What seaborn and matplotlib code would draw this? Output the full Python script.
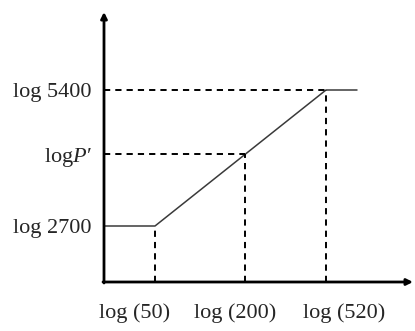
import matplotlib
matplotlib.use("Agg")
import matplotlib.pyplot as plt
import seaborn as sns
import pandas as pd

# schematic positions (the chart is not to scale)
x_labels = ["log (50)", "log (200)", "log (520)"]
x_pos = [51, 141, 222]
x_label_pos = [31, 131, 240]   # labels sit a little off the guide lines
y_labels = ["log 2700", "log$P′$", "log 5400"]
y_pos = [56, 128, 192]

# piecewise curve: flat, rising, flat
curve_x = [0, 51, 222, 253]
curve_y = [56, 56, 192, 192]

sns.set_theme(style="white")
plt.rcParams["font.family"] = ["Liberation Serif", "DejaVu Serif"]
plt.rcParams["mathtext.fontset"] = "custom"
plt.rcParams["mathtext.rm"] = "Liberation Serif"
plt.rcParams["mathtext.it"] = "Liberation Serif:italic"

fig = plt.figure(figsize=(4.15, 3.31), dpi=100)
ax = fig.add_axes([104 / 415, 49 / 331, 309 / 415, 270 / 331])
ax.set_xlim(0, 309)
ax.set_ylim(0, 270)

curve = pd.DataFrame({"x": curve_x, "y": curve_y})
sns.lineplot(data=curve, x="x", y="y", sort=False, ax=ax,
             color="#3a3a3a", linewidth=1.1)

dash = (0, (3.2, 2.6))
# vertical guides from the axis to the curve
for xv, yv in zip(x_pos, y_pos):
    ax.plot([xv, xv], [0, yv], color="black", linewidth=1.4, linestyle=dash)
# horizontal guides for P' and 5400
for xv, yv in zip(x_pos[1:], y_pos[1:]):
    ax.plot([0, xv], [yv, yv], color="black", linewidth=1.4, linestyle=dash)

# axes drawn as arrows
for s in ax.spines.values():
    s.set_visible(False)
arrow = dict(arrowstyle="-|>", color="black", lw=2, mutation_scale=9,
             shrinkA=0, shrinkB=0)
ax.annotate("", xy=(309, 0), xytext=(-1, 0), arrowprops=arrow,
            annotation_clip=False)
ax.annotate("", xy=(0, 270), xytext=(0, -1), arrowprops=arrow,
            annotation_clip=False)

ax.set_xticks(x_label_pos)
ax.set_xticklabels(x_labels, fontsize=16)
ax.set_yticks(y_pos)
ax.set_yticklabels(y_labels, fontsize=16)
ax.tick_params(axis="x", length=0, pad=15)
ax.tick_params(axis="y", length=0, pad=9)
ax.set_xlabel("")
ax.set_ylabel("")

fig.savefig("out.png", dpi=100)
